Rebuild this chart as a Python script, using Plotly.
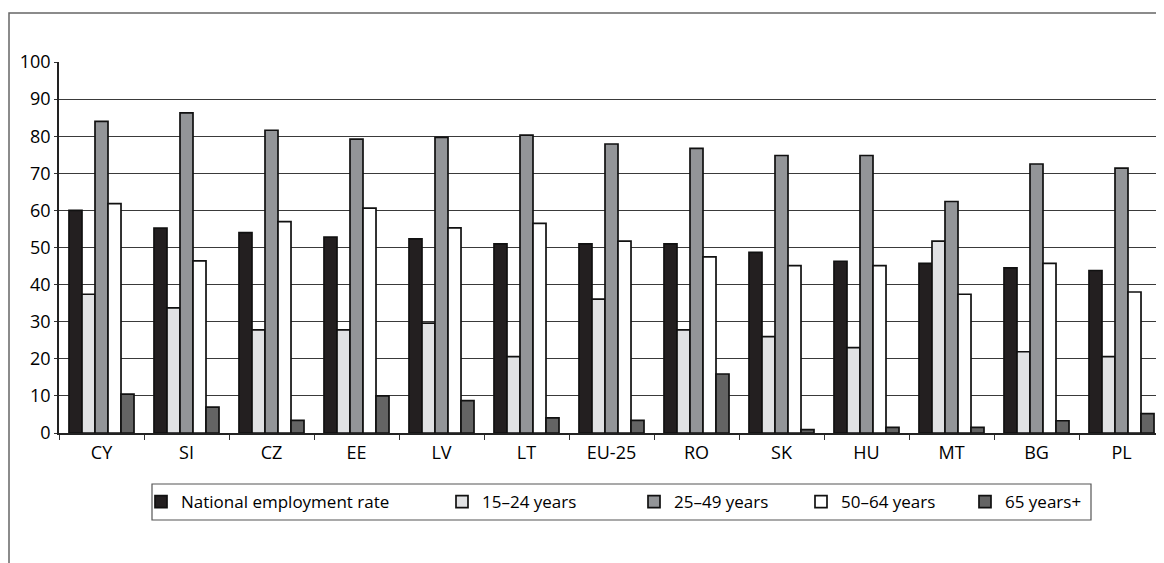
import plotly.graph_objects as go

categories = ["CY", "SI", "CZ", "EE", "LV", "LT", "EU-25", "RO", "SK", "HU", "MT", "BG", "PL"]
national = [60.0, 55.2, 54.0, 52.8, 52.3, 51.0, 51.0, 51.0, 48.7, 46.3, 45.7, 44.5, 43.8]
age_15_24 = [37.4, 33.7, 27.8, 27.8, 29.6, 20.6, 36.1, 27.8, 26.0, 23.0, 51.7, 21.9, 20.6]
age_25_49 = [84.0, 86.3, 81.6, 79.2, 79.7, 80.3, 77.9, 76.7, 74.8, 74.8, 62.4, 72.5, 71.4]
age_50_64 = [61.8, 46.4, 57.0, 60.6, 55.3, 56.5, 51.7, 47.5, 45.1, 45.1, 37.4, 45.7, 38.0]
age_65_plus = [10.5, 7.0, 3.4, 10.0, 8.7, 4.1, 3.4, 15.9, 0.9, 1.5, 1.5, 3.3, 5.2]

series_names = ["National employment rate", "15–24 years", "25–49 years", "50–64 years", "65 years+"]
series_values = [national, age_15_24, age_25_49, age_50_64, age_65_plus]
series_colors = ["#231f20", "#e1e2e4", "#939598", "#ffffff", "#646464"]
legend_ids = ["legend", "legend2", "legend3", "legend4", "legend5"]

FONT = "Open Sans"
FS = 18
LFS = 17

fig = go.Figure()
for name, vals, col, lid in zip(series_names, series_values, series_colors, legend_ids):
    fig.add_trace(go.Bar(
        x=categories, y=vals, name=name,
        marker=dict(color=col, line=dict(color="#111111", width=1.7)),
        legend=lid, showlegend=True,
    ))

# the page body adds an 8px offset; geometry below is in screen pixels
OFF = 8
W, H = 1164 - OFF, 563 - OFF
plot_left, plot_top, plot_bottom, plot_right = 59, 62, 433, 1164
ml, mt = plot_left - OFF, plot_top - OFF
mr, mb = 0, H - (plot_bottom - OFF)
pw, ph = W - ml - mr, H - mt - mb

def px_x(x):
    return (x - OFF - ml) / pw

def px_y(y):
    return (H - mb - (y - OFF)) / ph

# screen x where each legend label's text begins
text_start_px = [178, 479, 671, 838, 1002]
legend_cfg = {}
for lid, tx in zip(legend_ids, text_start_px):
    legend_cfg[lid] = dict(
        x=px_x(tx - 37), xanchor="left",
        y=px_y(502), yanchor="middle",
        orientation="h", borderwidth=0, bgcolor="rgba(0,0,0,0)",
        font=dict(family=FONT, size=LFS, color="#000000"),
        itemwidth=30, visible=True,
    )

fig.update_layout(
    width=W, height=H,
    margin=dict(l=ml, r=mr, t=mt, b=mb, pad=0, autoexpand=False),
    paper_bgcolor="white", plot_bgcolor="white",
    barmode="group", bargap=0.235, bargroupgap=0,
    font=dict(family=FONT, size=FS, color="#000000"),
    showlegend=True,
    **legend_cfg,
)
fig.update_xaxes(
    range=[-0.5, 12.5], tickson="boundaries", ticks="outside", ticklen=5,
    tickcolor="#333333", showline=True, linecolor="#222222", linewidth=1.5,
    showgrid=False, tickfont=dict(family=FONT, size=FS), ticklabelstandoff=3,
)
fig.update_yaxes(
    range=[0, 100], dtick=10, ticks="outside", ticklen=3, tickcolor="#333333",
    showline=True, linecolor="#222222", linewidth=1.5,
    showgrid=True, gridcolor="#3a3a3a", gridwidth=1,
    tickfont=dict(family=FONT, size=FS), zeroline=False,
)

# legend frame and outer figure frame
fig.add_shape(type="rect", xref="paper", yref="paper",
              x0=px_x(152), x1=px_x(1091), y0=px_y(520), y1=px_y(484),
              line=dict(color="#555555", width=1.2), fillcolor="rgba(0,0,0,0)", layer="below")
fig.add_shape(type="path", xref="paper", yref="paper",
              path=f"M {px_x(9)},{px_y(570)} L {px_x(9)},{px_y(13)} L {px_x(1170)},{px_y(13)}",
              line=dict(color="#666666", width=1.5))

fig.write_html("out.html")
